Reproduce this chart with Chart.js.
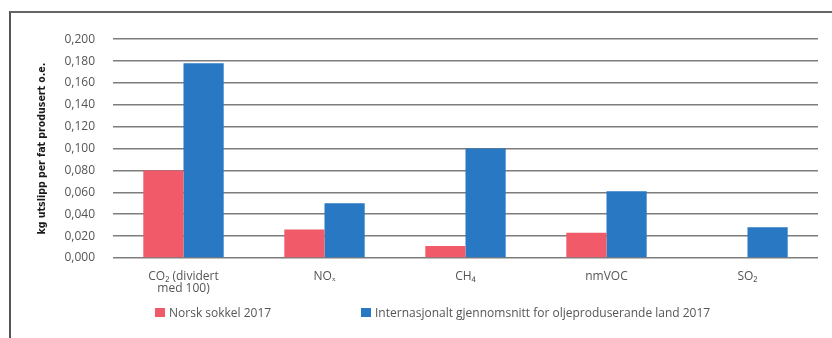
<!DOCTYPE html>
<html>
<head>
<meta charset="utf-8">
<script src="https://cdn.jsdelivr.net/npm/chart.js@4.4.1/dist/chart.umd.min.js"></script>
<style>
  html, body { margin: 0; padding: 0; background: #fff; width: 832px; height: 338px; overflow: hidden; }
  #frame { position: absolute; left: 9px; top: 11px; width: 830px; height: 340px;
           border-left: 2px solid #555; border-top: 2px solid #666; box-sizing: border-box; }
  #wrap { position: absolute; left: 12px; top: 14px; width: 820px; height: 320px; }
  #legend { position: absolute; top: 304px; left: 0; width: 832px; height: 17px;
            font: 12px "Open Sans", sans-serif; color: #555; }
  #legend .item { position: absolute; top: 0; display: flex; align-items: center; white-space: nowrap; }
  #legend .box { width: 10px; height: 9px; margin-right: 4px; }
</style>
</head>
<body>
<div id="frame"></div>
<div id="wrap"><canvas id="c"></canvas></div>
<div id="legend"></div>
<script>
// Utslipp per fat produsert oljeekvivalent, 2017
const categories = [["CO\u2082 (dividert", "med 100)"], "NO\u2093", "CH\u2084", "nmVOC", "SO\u2082"];
const norskSokkel = [0.080, 0.026, 0.011, 0.023, 0];
const internasjonalt = [0.178, 0.050, 0.100, 0.061, 0.028];
const seriesNames = ["Norsk sokkel 2017", "Internasjonalt gjennomsnitt for oljeproduserande land 2017"];
const seriesColors = ["#f05a69", "#2878c3"];
const yTitle = "kg utslipp per fat produsert o.e.";
const yMin = 0, yMax = 0.2, yStep = 0.02;

const fmt = v => v.toFixed(3).replace(".", ",");

const chart = new Chart(document.getElementById("c"), {
  type: "bar",
  data: {
    labels: categories,
    datasets: [
      { label: seriesNames[0], data: norskSokkel, backgroundColor: seriesColors[0] },
      { label: seriesNames[1], data: internasjonalt, backgroundColor: seriesColors[1] }
    ]
  },
  options: {
    responsive: true,
    maintainAspectRatio: false,
    animation: false,
    layout: { padding: { left: 0, right: 14, top: 23, bottom: 30 } },
    datasets: { bar: { categoryPercentage: 0.57, barPercentage: 1.0 } },
    plugins: { legend: { display: false }, tooltip: { enabled: false } },
    scales: {
      x: {
        grid: { display: false, drawTicks: false },
        border: { display: false },
        ticks: { color: "#555", font: { family: "Open Sans", size: 12, lineHeight: 1.05 }, padding: 12, maxRotation: 0 },
        afterFit: s => { s.height = 46; }
      },
      y: {
        min: yMin, max: yMax,
        grid: { color: "#7d7d7d", lineWidth: 1.6, drawTicks: false },
        border: { display: false },
        ticks: { stepSize: yStep, color: "#555", padding: 18,
                 font: { family: "Open Sans", size: 12 }, callback: v => fmt(v) },
        title: { display: true, text: yTitle, color: "#1a1a1a",
                 font: { family: "'DejaVu Sans Condensed', Roboto, sans-serif", size: 10.5, weight: "bold" },
                 padding: { top: 24, bottom: 0 } },
        afterFit: s => { s.width = 101; }
      }
    }
  }
});

// Legend drawn beneath the chart from the dataset definitions
const legend = document.getElementById("legend");
const legendLeft = [155, 361];
chart.data.datasets.forEach((ds, i) => {
  const item = document.createElement("div");
  item.className = "item";
  item.style.left = legendLeft[i] + "px";
  const box = document.createElement("span");
  box.className = "box";
  box.style.background = ds.backgroundColor;
  const txt = document.createElement("span");
  txt.textContent = ds.label;
  item.appendChild(box);
  item.appendChild(txt);
  legend.appendChild(item);
});
</script>
</body>
</html>
